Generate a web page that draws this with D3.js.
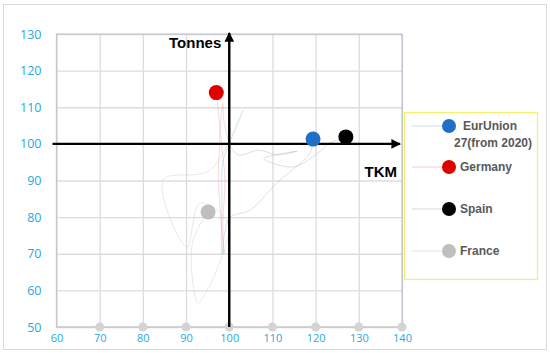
<!DOCTYPE html>
<html>
<head>
<meta charset="utf-8">
<script src="https://cdn.jsdelivr.net/npm/d3@7"></script>
<style>
  body { margin: 0; background: #fff; }
  svg { font-family: "Liberation Sans", Arial, sans-serif; }
</style>
</head>
<body>
<svg></svg>
<script>
// tick values
let xTicks = [60, 70, 80, 90, 100, 110, 120, 130, 140]
let yTicks = [50, 60, 70, 80, 90, 100, 110, 120, 130]

// legend / series names
let seriesNames = ['EurUnion 27(from 2020)', 'Germany', 'Spain', 'France']
let seriesColors = ['#1f6fc6', '#e00000', '#000000', '#bfbfbf']

// trajectories (TKM index, Tonnes index), last point = latest value
let euX = [100, 98.5, 98.3, 98.3, 99, 100.2, 104.8, 111, 118.7, 119.4]
let euY = [100, 95, 85, 70, 76, 80, 81.9, 89.3, 97.5, 101.3]
let deX = [100, 98.8, 98.5, 98, 99, 98.5, 98.8, 97.5, 97.8, 97]
let deY = [100, 106, 111, 104, 90, 78, 70, 90, 104, 114]
let esX = [100, 102, 107, 111, 115.7, 108, 114.7, 120, 123.3, 127]
let esY = [100, 97, 98.3, 97, 98, 96, 93.7, 97, 100.2, 101.9]
let frX = [100, 103.2, 95.5, 84.7, 90.2, 93.2, 99.7, 97.1, 93.9, 92.8, 91.6, 91.6, 95.1]
let frY = [100, 109.2, 92.8, 90.1, 71.8, 83.8, 78.4, 65.5, 58.1, 56.5, 62, 73.7, 81.4]

// grey markers along the bottom
let baseX = [70, 80, 90, 100, 110, 120, 130, 140]
let baseY = 50

let width = 550
let height = 353

let svg = d3.select('svg').attr('width', width).attr('height', height)

// outer frame
svg.append('rect')
   .attr('x', 3.5).attr('y', 4.5)
   .attr('width', 543).attr('height', 345)
   .attr('fill', '#fff').attr('stroke', '#d9d9d9')

let xScale = d3.scaleLinear().domain([60, 140]).range([56.5, 402])
let yScale = d3.scaleLinear().domain([50, 130]).range([327, 34])

// gridlines
svg.append('g')
   .attr('transform', 'translate(0,' + yScale(50) + ')')
   .call(d3.axisBottom(xScale).tickValues(xTicks).tickSize(-(yScale(50) - yScale(130))).tickFormat(''))
   .call(g => g.select('.domain').remove())
   .call(g => g.selectAll('line').attr('stroke', '#dcdcdc').attr('stroke-width', 1.3))

svg.append('g')
   .attr('transform', 'translate(' + xScale(60) + ',0)')
   .call(d3.axisLeft(yScale).tickValues(yTicks).tickSize(-(xScale(140) - xScale(60))).tickFormat(''))
   .call(g => g.select('.domain').remove())
   .call(g => g.selectAll('line').attr('stroke', '#dcdcdc').attr('stroke-width', 1.3))

// plot border: solid left/bottom, dotted top/right
svg.append('path')
   .attr('d', 'M' + xScale(60) + ',' + yScale(130) + 'V' + yScale(50) + 'H' + xScale(140))
   .attr('fill', 'none').attr('stroke', '#c8c8c8').attr('stroke-width', 1.3)
svg.append('path')
   .attr('d', 'M' + xScale(60) + ',' + yScale(130) + 'H' + xScale(140) + 'V' + yScale(50))
   .attr('fill', 'none').attr('stroke', '#8a9bb5').attr('stroke-width', 1.2)
   .attr('stroke-dasharray', '1,1')

// tick labels
let xAxis = svg.append('g')
   .attr('transform', 'translate(0,' + (yScale(50) + 4) + ')')
   .call(d3.axisBottom(xScale).tickValues(xTicks).tickSize(0))
xAxis.select('.domain').remove()
xAxis.selectAll('text').attr('fill', '#27a9e1').attr('font-size', 11)
   .attr('font-family', '"Open Sans", sans-serif')

let yAxis = svg.append('g')
   .attr('transform', 'translate(' + (xScale(60) - 12) + ',0)')
   .call(d3.axisLeft(yScale).tickValues(yTicks).tickSize(0))
yAxis.select('.domain').remove()
yAxis.selectAll('text').attr('fill', '#27a9e1').attr('font-size', 12.5)
   .attr('font-family', '"Open Sans", sans-serif')

// bottom grey markers
svg.append('g').selectAll('circle')
   .data(baseX).enter().append('circle')
   .attr('cx', d => xScale(d)).attr('cy', yScale(baseY))
   .attr('r', 4.5).attr('fill', '#d4d4d4')

// faint trajectories
let lines = [[euX, euY], [deX, deY], [esX, esY], [frX, frY]]
let lineColors = ['#9db8d8', '#e8a0a0', '#b0b0b0', '#c8c8c8']
let lineGen = d3.line()
   .x(d => xScale(d[0])).y(d => yScale(d[1]))
   .curve(d3.curveCatmullRom.alpha(0.5))
lines.forEach((l, i) => {
    let pts = l[0].map((x, j) => [x, l[1][j]])
    svg.append('path')
       .attr('d', lineGen(pts))
       .attr('fill', 'none')
       .attr('stroke', lineColors[i])
       .attr('stroke-opacity', 0.45)
       .attr('stroke-width', 0.9)
})

// black axes through (100,100) with arrows
svg.append('defs').append('marker')
   .attr('id', 'arrow')
   .attr('viewBox', '0 0 10 10')
   .attr('refX', 9).attr('refY', 5)
   .attr('markerWidth', 4).attr('markerHeight', 4)
   .attr('markerUnits', 'strokeWidth')
   .attr('orient', 'auto')
   .append('path').attr('d', 'M0,0L10,5L0,10Z').attr('fill', '#000')

svg.append('line')
   .attr('x1', xScale(60) - 4).attr('x2', 400)
   .attr('y1', yScale(100)).attr('y2', yScale(100))
   .attr('stroke', '#000').attr('stroke-width', 2.4)
   .attr('marker-end', 'url(#arrow)')
svg.append('line')
   .attr('x1', xScale(100)).attr('x2', xScale(100))
   .attr('y1', yScale(50)).attr('y2', 33)
   .attr('stroke', '#000').attr('stroke-width', 2.4)
   .attr('marker-end', 'url(#arrow)')

svg.append('text')
   .attr('x', xScale(100) - 8).attr('y', 48)
   .attr('text-anchor', 'end')
   .attr('font-weight', 'bold').attr('font-size', 15)
   .text('Tonnes')
svg.append('text')
   .attr('x', 397).attr('y', 177)
   .attr('text-anchor', 'end')
   .attr('font-weight', 'bold').attr('font-size', 15)
   .text('TKM')

// latest points
let lastPoints = lines.map(l => [l[0][l[0].length - 1], l[1][l[1].length - 1]])
svg.append('g').selectAll('circle')
   .data(lastPoints).enter().append('circle')
   .attr('cx', d => xScale(d[0])).attr('cy', d => yScale(d[1]))
   .attr('r', 7.5)
   .attr('fill', (d, i) => seriesColors[i])

// legend
svg.append('rect')
   .attr('x', 404.5).attr('y', 112.5)
   .attr('width', 133).attr('height', 167)
   .attr('fill', '#fff').attr('stroke', '#f3ef6a').attr('stroke-width', 1.2)

let legendY = [126, 167, 209, 251]
let legend = svg.append('g').selectAll('g')
   .data(seriesNames).enter().append('g')
   .attr('transform', (d, i) => 'translate(0,' + legendY[i] + ')')
legend.append('line')
   .attr('x1', 412).attr('x2', 442)
   .attr('stroke', (d, i) => lineColors[i]).attr('stroke-opacity', 0.5)
legend.append('circle')
   .attr('cx', 449).attr('r', 7)
   .attr('fill', (d, i) => seriesColors[i])
legend.append('text')
   .attr('font-weight', 'bold').attr('font-size', 12)
   .attr('fill', '#595959')
   .each(function (d, i) {
       let t = d3.select(this)
       if (i === 0) {
           t.append('tspan').attr('x', 463).attr('y', 4).text('EurUnion')
           t.append('tspan').attr('x', 454).attr('y', 21).text('27(from 2020)')
       } else {
           t.append('tspan').attr('x', 460).attr('y', 4).text(d)
       }
   })
</script>
</body>
</html>
